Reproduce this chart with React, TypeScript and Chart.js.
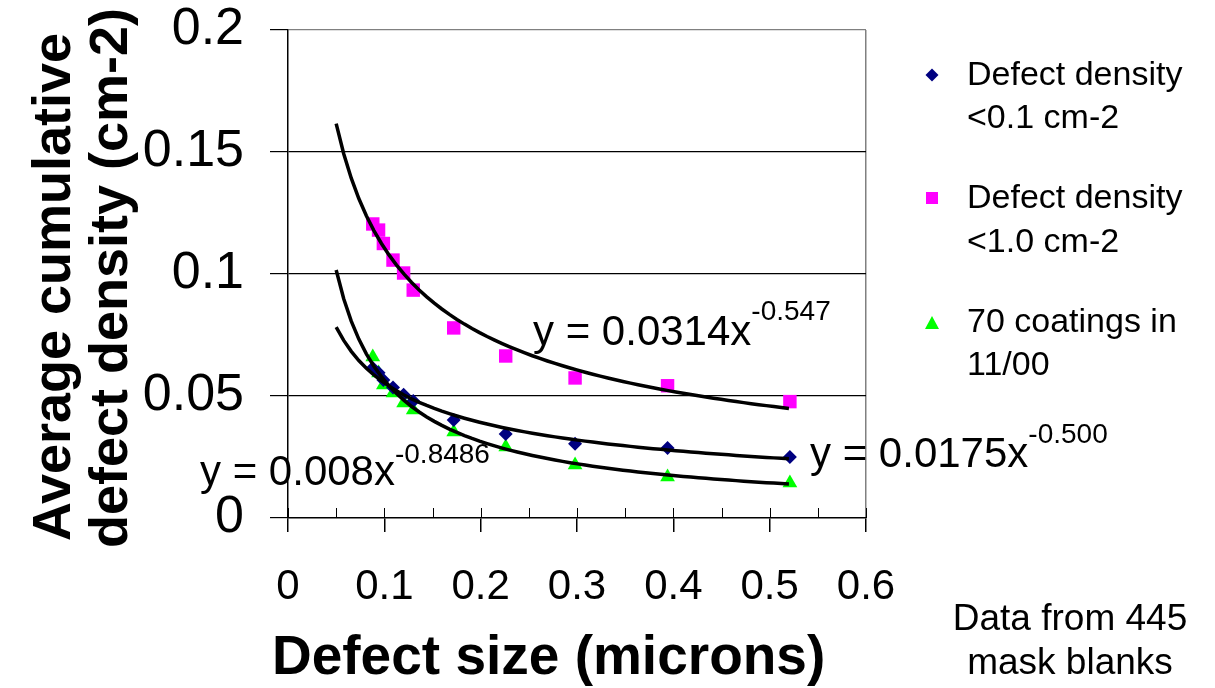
import React, { useEffect, useRef } from "react";
import { Chart, registerables } from "chart.js";

Chart.register(...registerables);

// ---- data ----
const defectSizes = [0.088, 0.094, 0.099, 0.109, 0.12, 0.13, 0.172, 0.226, 0.298, 0.394, 0.521];
const densityBelow01 = [0.0615, 0.0595, 0.0566, 0.0535, 0.0505, 0.048, 0.0402, 0.0344, 0.0304, 0.0287, 0.025];
const densityBelow10 = [0.1205, 0.118, 0.1125, 0.1057, 0.1004, 0.0934, 0.0779, 0.0664, 0.0574, 0.0542, 0.0477];
const coatings1100 = [0.066, 0.0594, 0.0545, 0.0512, 0.0471, 0.0443, 0.0352, 0.0291, 0.0217, 0.0168, 0.0143];

const seriesNames = ["Defect density <0.1 cm-2", "Defect density <1.0 cm-2", "70 coatings in 11/00"];
const legendLines = [["Defect density", "<0.1 cm-2"], ["Defect density", "<1.0 cm-2"], ["70 coatings in", "11/00"]];

// power-law trendlines y = a * x^b, as printed on the chart
const trendCoefA = [0.0175, 0.0314, 0.008];
const trendCoefB = [-0.5, -0.547, -0.8486];
const trendLabelsMain = ["y = 0.0175x", "y = 0.0314x", "y = 0.008x"];
const trendLabelsSup = ["-0.500", "-0.547", "-0.8486"];
const trendXRange = [0.05, 0.52];

const xTicks = [0, 0.1, 0.2, 0.3, 0.4, 0.5, 0.6];
const yTicks = [0, 0.05, 0.1, 0.15, 0.2];

const FONT = "'Liberation Sans', Arial, sans-serif";

function trendPoints(a: number, b: number) {
  const pts: { x: number; y: number }[] = [];
  const n = 60;
  for (let i = 0; i <= n; i++) {
    const x = trendXRange[0] + ((trendXRange[1] - trendXRange[0]) * i) / n;
    pts.push({ x, y: a * Math.pow(x, b) });
  }
  return pts;
}

function drawMarker(ctx: CanvasRenderingContext2D, kind: string, x: number, y: number, r: number, color: string) {
  ctx.save();
  ctx.fillStyle = color;
  ctx.beginPath();
  if (kind === "diamond") {
    ctx.moveTo(x, y - r);
    ctx.lineTo(x + r, y);
    ctx.lineTo(x, y + r);
    ctx.lineTo(x - r, y);
  } else if (kind === "square") {
    ctx.rect(x - r, y - r, 2 * r, 2 * r);
  } else {
    ctx.moveTo(x, y - r);
    ctx.lineTo(x + r, y + r * 0.85);
    ctx.lineTo(x - r, y + r * 0.85);
  }
  ctx.closePath();
  ctx.fill();
  ctx.restore();
}

const extrasPlugin = {
  id: "extras",
  beforeDatasetsDraw(chart: any) {
    const { ctx, scales } = chart;
    const xs = scales.x;
    const bottom = chart.chartArea.bottom;
    ctx.save();
    ctx.strokeStyle = "#000";
    ctx.lineWidth = 1;
    for (let i = 0; i <= 12; i++) {
      const px = Math.round(xs.getPixelForValue(i * 0.05)) + 0.5;
      ctx.beginPath();
      ctx.moveTo(px, bottom - 10);
      ctx.lineTo(px, bottom);
      ctx.stroke();
    }
    ctx.restore();
  },
  afterDraw(chart: any) {
    const { ctx } = chart;
    ctx.save();
    ctx.fillStyle = "#000";

    // axis titles
    ctx.font = `bold 55px ${FONT}`;
    ctx.textAlign = "left";
    ctx.textBaseline = "alphabetic";
    ctx.fillText("Defect size (microns)", 272, 674);

    ctx.font = `bold 54px ${FONT}`;
    ctx.textAlign = "center";
    ctx.textBaseline = "middle";
    ctx.save();
    ctx.translate(55, 287);
    ctx.rotate(-Math.PI / 2);
    ctx.fillText("Average cumulative", 0, 0);
    ctx.restore();
    ctx.save();
    ctx.translate(112, 278);
    ctx.rotate(-Math.PI / 2);
    ctx.fillText("defect density (cm-2)", 0, 0);
    ctx.restore();

    // trendline equations
    const labelPos = [
      [810, 467, 443],
      [533, 345, 320],
      [200, 485, 463],
    ];
    ctx.textAlign = "left";
    ctx.textBaseline = "alphabetic";
    for (let i = 0; i < 3; i++) {
      const [lx, base, supBase] = labelPos[i];
      ctx.font = `42px ${FONT}`;
      ctx.fillText(trendLabelsMain[i], lx, base);
      const w = ctx.measureText(trendLabelsMain[i]).width;
      ctx.font = `28px ${FONT}`;
      ctx.fillText(trendLabelsSup[i], lx + w, supBase);
    }

    // legend
    const markerKinds = ["diamond", "square", "triangle"];
    const markerColors = ["#000080", "#FF00FF", "#00FF00"];
    const markerY = [75, 198, 323];
    const lineBases = [
      [85, 128],
      [208, 252],
      [332, 375],
    ];
    ctx.font = `34px ${FONT}`;
    for (let i = 0; i < 3; i++) {
      const r = i === 0 ? 6.5 : i === 1 ? 6 : 7;
      drawMarker(ctx, markerKinds[i], 932, markerY[i], r, markerColors[i]);
      ctx.fillText(legendLines[i][0], 967, lineBases[i][0]);
      ctx.fillText(legendLines[i][1], 967, lineBases[i][1]);
    }

    // note
    ctx.font = `37px ${FONT}`;
    ctx.textAlign = "center";
    ctx.fillText("Data from 445", 1070, 630);
    ctx.fillText("mask blanks", 1070, 674);
    ctx.restore();
  },
};

const near = (a: number, b: number) => Math.abs(a - b) < 1e-9;

export default function App() {
  const ref = useRef<HTMLCanvasElement | null>(null);

  useEffect(() => {
    if (!ref.current) return;
    const mk = (ys: number[]) => defectSizes.map((x, i) => ({ x, y: ys[i] }));
    const chart = new Chart(ref.current, {
      type: "scatter",
      data: {
        datasets: [
          {
            label: seriesNames[0],
            data: mk(densityBelow01),
            pointStyle: "rectRot",
            pointRadius: 7,
            backgroundColor: "#000080",
            borderColor: "#000080",
            borderWidth: 0,
            order: 1,
          },
          {
            label: seriesNames[1],
            data: mk(densityBelow10),
            pointStyle: "rect",
            pointRadius: 9.5,
            backgroundColor: "#FF00FF",
            borderColor: "#FF00FF",
            borderWidth: 0,
            order: 1,
          },
          {
            label: seriesNames[2],
            data: mk(coatings1100),
            pointStyle: "triangle",
            pointRadius: 8.5,
            backgroundColor: "#00FF00",
            borderColor: "#00FF00",
            borderWidth: 0,
            order: 1,
          },
          ...trendCoefA.map((a, i) => ({
            type: "line" as const,
            label: "trend " + i,
            data: trendPoints(a, trendCoefB[i]),
            borderColor: "#000",
            borderWidth: 3.5,
            pointRadius: 0,
            fill: false,
            tension: 0,
            showLine: true,
            order: 0,
          })),
        ],
      },
      options: {
        responsive: false,
        animation: false,
        events: [],
        layout: { padding: { top: 30, right: 349, left: 0, bottom: 0 } },
        plugins: {
          legend: { display: false },
          tooltip: { enabled: false },
          title: { display: false },
        },
        scales: {
          x: {
            type: "linear",
            min: 0,
            max: 0.6,
            afterFit: (s: any) => {
              s.height = 170;
              s.paddingLeft = 0;
              s.paddingRight = 0;
            },
            afterBuildTicks: (s: any) => {
              s.ticks = xTicks.map((v) => ({ value: v }));
            },
            ticks: {
              color: "#000",
              font: { family: FONT, size: 42 },
              padding: 30,
              maxRotation: 0,
              callback: (v: any) => String(Math.round(Number(v) * 100) / 100),
            },
            grid: {
              color: (c: any) => (c.tick && near(c.tick.value, 0.6) ? "#808080" : "rgba(0,0,0,0)"),
              tickColor: "#000",
              tickLength: 14,
              lineWidth: 1.5,
            },
            border: { display: true, color: "#000", width: 1.5 },
          },
          y: {
            type: "linear",
            min: 0,
            max: 0.2,
            afterFit: (s: any) => {
              s.width = 288;
              s.paddingTop = 0;
              s.paddingBottom = 0;
            },
            afterBuildTicks: (s: any) => {
              s.ticks = yTicks.map((v) => ({ value: v }));
            },
            ticks: {
              color: "#000",
              font: { family: FONT, size: 52 },
              padding: 26,
              callback: (v: any) => String(Math.round(Number(v) * 1000) / 1000),
            },
            grid: {
              color: (c: any) =>
                c.tick && near(c.tick.value, 0.2)
                  ? "#808080"
                  : c.tick && near(c.tick.value, 0)
                  ? "rgba(0,0,0,0)"
                  : "#000",
              tickColor: "#000",
              tickLength: 18,
              lineWidth: 1.2,
            },
            border: { display: true, color: "#000", width: 1.5 },
          },
        },
      },
      plugins: [extrasPlugin],
    } as any);
    return () => chart.destroy();
  }, []);

  return (
    <div style={{ position: "absolute", left: 0, top: 0, width: 1215, height: 688, background: "#fff" }}>
      <canvas ref={ref} width={1215} height={688} style={{ width: 1215, height: 688, display: "block" }} />
    </div>
  );
}
